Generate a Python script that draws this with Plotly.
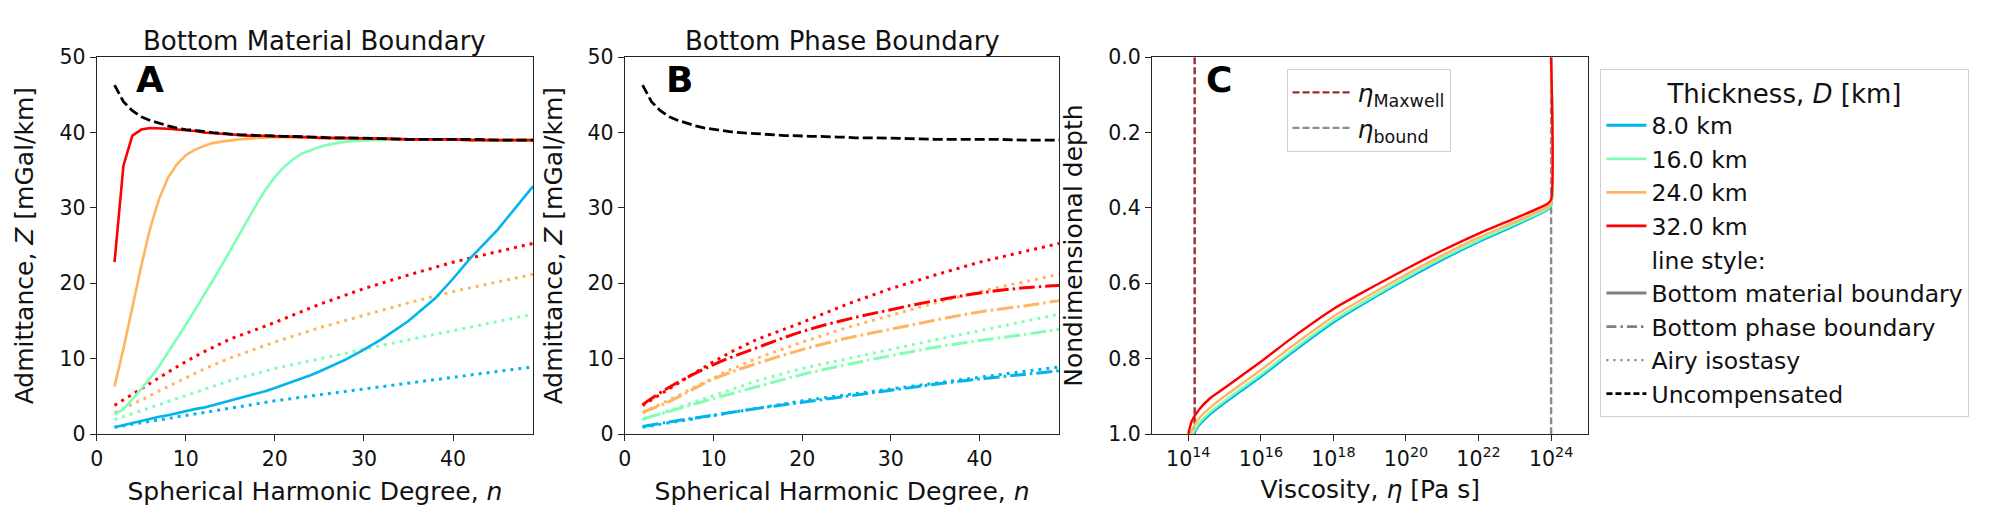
import numpy as np
import plotly.graph_objects as go
from plotly.subplots import make_subplots

# spherical harmonic degrees used for each group of curves
n_full = [2, 3, 4, 5, 6, 7, 8, 9, 10, 11, 12, 13, 14, 15, 16, 17, 18, 19, 20,
          21, 22, 23, 24, 25, 26, 28, 30, 32, 35, 38, 40, 42, 45, 47, 49]
n_airy = [2, 4, 6, 8, 10, 12, 15, 20, 25, 30, 35, 40, 45, 49]
n_phase = [2, 5, 10, 15, 20, 25, 30, 35, 40, 45, 49]

thickness_km = [8.0, 16.0, 24.0, 32.0]
colors = ['#00b4ec', '#80ffb4', '#ffb462', '#ff0000']

# uncompensated admittance [mGal/km]
z_uncomp = [46.3, 44.1, 42.9, 42.1, 41.6, 41.2, 40.9, 40.6, 40.4, 40.3, 40.1, 40.0,
            39.9, 39.8, 39.7, 39.7, 39.6, 39.6, 39.5, 39.5, 39.5, 39.4, 39.4, 39.4,
            39.3, 39.3, 39.2, 39.2, 39.1, 39.1, 39.1, 39.1, 39.0, 39.0, 39.0]

# bottom material boundary (panel A, solid)
z_mat_8 = [0.9, 1.2, 1.5, 1.8, 2.0, 2.3, 2.5, 2.8, 3.0, 3.3, 3.5, 3.8, 4.1, 4.4,
           4.7, 5.0, 5.4, 5.7, 6.1, 6.5, 6.9, 7.3, 7.8, 8.3, 8.8, 9.9, 11.2, 12.6,
           15.0, 18.0, 20.6, 23.4, 27.1, 30.0, 32.9]
z_mat_16 = [2.6, 3.3, 4.6, 6.0, 7.4, 9.0, 10.8, 12.7, 14.5, 16.4, 18.3, 20.3, 22.3,
            24.4, 26.5, 28.6, 30.6, 32.5, 34.1, 35.4, 36.4, 37.2, 37.7, 38.1, 38.4,
            38.8, 38.95, 39.05, 39.1, 39.1, 39.05, 39.0, 39.0, 39.0, 39.0]
z_mat_24 = [6.3, 11.3, 16.8, 22.3, 27.3, 31.2, 34.0, 35.8, 37.0, 37.7, 38.2, 38.6,
            38.8, 39.0, 39.1, 39.2, 39.3, 39.3, 39.4, 39.4, 39.4, 39.4, 39.4, 39.3,
            39.3, 39.3, 39.2, 39.2, 39.1, 39.1, 39.1, 39.0, 39.0, 39.0, 39.0]
z_mat_32 = [22.8, 35.6, 39.6, 40.4, 40.6, 40.6, 40.5, 40.4, 40.3, 40.2, 40.0, 39.9,
            39.8, 39.7, 39.7, 39.6, 39.6, 39.5, 39.5, 39.5, 39.4, 39.4, 39.4, 39.3,
            39.3, 39.3, 39.2, 39.2, 39.1, 39.1, 39.1, 39.0, 39.0, 39.0, 39.0]

# Airy isostasy (dotted, both panels)
z_airy_8 = [0.9, 1.3, 1.7, 2.1, 2.5, 2.9, 3.4, 4.4, 5.2, 6.0, 6.8, 7.5, 8.3, 8.9]
z_airy_16 = [1.9, 2.7, 3.5, 4.4, 5.2, 6.0, 7.1, 8.7, 10.0, 11.2, 12.5, 13.7, 14.9, 15.9]
z_airy_24 = [2.8, 3.9, 5.1, 6.3, 7.5, 8.6, 10.1, 12.2, 14.1, 15.8, 17.4, 18.9, 20.2, 21.2]
z_airy_32 = [3.8, 5.3, 6.8, 8.2, 9.6, 10.9, 12.6, 14.8, 17.2, 19.3, 21.1, 22.8, 24.2, 25.3]

# bottom phase boundary (panel B, dash-dot)
z_phase_8 = [1.0, 1.6, 2.5, 3.4, 4.2, 5.0, 5.8, 6.6, 7.3, 7.9, 8.4]
z_phase_16 = [2.0, 3.0, 4.7, 6.3, 7.9, 9.2, 10.4, 11.5, 12.4, 13.2, 13.9]
z_phase_24 = [2.9, 4.3, 7.3, 9.4, 11.2, 12.7, 13.9, 15.1, 16.2, 17.0, 17.7]
z_phase_32 = [3.9, 6.2, 9.2, 11.5, 13.6, 15.2, 16.5, 17.7, 18.7, 19.4, 19.7]

# viscosity profiles (panel C): log10 viscosity [Pa s] vs nondimensional depth
log_eta_8 = [24.0, 24.0, 23.9, 23.0, 22.0, 21.0, 20.0, 19.0, 18.0, 17.0, 16.0, 15.0, 14.6, 14.3, 14.15]
depth_8 = [0.0, 0.394, 0.405, 0.447, 0.490, 0.538, 0.590, 0.645, 0.704, 0.774, 0.848, 0.918, 0.948, 0.977, 1.0]
log_eta_16 = [24.0, 24.0, 23.9, 23.0, 22.0, 21.0, 20.0, 19.0, 18.0, 17.0, 16.0, 15.0, 14.6, 14.3, 14.12]
depth_16 = [0.0, 0.391, 0.402, 0.443, 0.486, 0.533, 0.585, 0.640, 0.698, 0.768, 0.842, 0.912, 0.942, 0.971, 1.0]
log_eta_24 = [24.0, 24.0, 23.9, 23.0, 22.0, 21.0, 20.0, 19.0, 18.0, 17.0, 16.0, 15.0, 14.6, 14.3, 14.15, 14.05]
depth_24 = [0.0, 0.386, 0.397, 0.437, 0.479, 0.526, 0.577, 0.631, 0.688, 0.757, 0.830, 0.900, 0.930, 0.958, 0.980, 1.0]
log_eta_32 = [24.0, 24.0, 23.9, 23.0, 22.0, 21.0, 20.0, 19.0, 18.0, 17.0, 16.0, 15.0, 14.6, 14.3, 14.1, 14.0]
depth_32 = [0.0, 0.378, 0.389, 0.428, 0.468, 0.513, 0.562, 0.614, 0.668, 0.735, 0.808, 0.878, 0.905, 0.935, 0.965, 1.0]

eta_maxwell = 1.5e14
eta_bound = 1e24

z_mat = [z_mat_8, z_mat_16, z_mat_24, z_mat_32]
z_airy = [z_airy_8, z_airy_16, z_airy_24, z_airy_32]
z_phase = [z_phase_8, z_phase_16, z_phase_24, z_phase_32]
log_etas = [log_eta_8, log_eta_16, log_eta_24, log_eta_32]
depths = [depth_8, depth_16, depth_24, depth_32]

FONT = 'DejaVu Sans'
DOT = '3px,5px'
DASHDOT = '16px,4px,2.5px,4px'
DASHED = '10px,4px'

fig = make_subplots(rows=1, cols=3)

# Panel A
for i in range(4):
    fig.add_trace(go.Scatter(x=n_airy, y=z_airy[i], mode='lines', showlegend=False,
                             line=dict(color=colors[i], width=3, dash=DOT)), row=1, col=1)
for i in range(4):
    fig.add_trace(go.Scatter(x=n_full, y=z_mat[i], mode='lines', showlegend=False,
                             line=dict(color=colors[i], width=2.6)), row=1, col=1)
fig.add_trace(go.Scatter(x=n_full, y=z_uncomp, mode='lines', showlegend=False,
                         line=dict(color='black', width=2.8, dash=DASHED)), row=1, col=1)

# Panel B
for i in range(4):
    fig.add_trace(go.Scatter(x=n_airy, y=z_airy[i], mode='lines', showlegend=False,
                             line=dict(color=colors[i], width=3, dash=DOT)), row=1, col=2)
for i in range(4):
    fig.add_trace(go.Scatter(x=n_phase, y=z_phase[i], mode='lines', showlegend=False,
                             line=dict(color=colors[i], width=3, dash=DASHDOT, shape='spline')),
                  row=1, col=2)
fig.add_trace(go.Scatter(x=n_full, y=z_uncomp, mode='lines', showlegend=False,
                         line=dict(color='black', width=2.8, dash=DASHED)), row=1, col=2)

# Panel C
fig.add_trace(go.Scatter(x=[eta_maxwell, eta_maxwell], y=[0, 1], mode='lines',
                         name='<i>η</i><sub>Maxwell</sub>', legend='legend2',
                         line=dict(color='#9b2d2d', width=2.4, dash='7px,3px')), row=1, col=3)
fig.add_trace(go.Scatter(x=[eta_bound, eta_bound], y=[0, 1], mode='lines',
                         name='<i>η</i><sub>bound</sub>', legend='legend2',
                         line=dict(color='#8c8c8c', width=2.4, dash='7px,3px')), row=1, col=3)
for i in range(4):
    fig.add_trace(go.Scatter(x=np.power(10.0, log_etas[i]), y=depths[i], mode='lines',
                             showlegend=False, line=dict(color=colors[i], width=2.4, shape='spline',
                                                         smoothing=0.6)),
                  row=1, col=3)

# main legend entries
for i in range(4):
    fig.add_trace(go.Scatter(x=[None], y=[None], mode='lines', name=f'{thickness_km[i]:.1f} km',
                             line=dict(color=colors[i], width=2.8)))
fig.add_trace(go.Scatter(x=[None], y=[None], mode='lines', name='line style:',
                         line=dict(color='rgba(0,0,0,0)', width=2)))
fig.add_trace(go.Scatter(x=[None], y=[None], mode='lines', name='Bottom material boundary',
                         line=dict(color='gray', width=2.8)))
fig.add_trace(go.Scatter(x=[None], y=[None], mode='lines', name='Bottom phase boundary',
                         line=dict(color='gray', width=2.8, dash='10px,4px,2.5px,4px')))
fig.add_trace(go.Scatter(x=[None], y=[None], mode='lines', name='Airy isostasy',
                         line=dict(color='gray', width=2.2, dash='2px,5px')))
fig.add_trace(go.Scatter(x=[None], y=[None], mode='lines', name='Uncompensated',
                         line=dict(color='black', width=2.6, dash='6px,3px')))

axis_common = dict(showline=True, mirror=True, linecolor='#262626', linewidth=1.2,
                   ticks='outside', ticklen=6, tickwidth=1.2, tickcolor='#262626',
                   showgrid=False, zeroline=False,
                   tickfont=dict(family=FONT, size=20.5, color='#111'))
ydom = [1 - 434 / 521, 1 - 39 / 521]

fig.update_layout(
    xaxis=dict(domain=[82 / 2000, 520 / 2000], range=[0, 49], tickvals=[0, 10, 20, 30, 40],
               title=dict(text='Spherical Harmonic Degree, <i>n</i>', standoff=12), **axis_common),
    yaxis=dict(domain=ydom, range=[0, 50], tickvals=[0, 10, 20, 30, 40, 50],
               title=dict(text='Admittance, <i>Z</i> [mGal/km]', standoff=18), **axis_common),
    xaxis2=dict(domain=[612 / 2000, 1048 / 2000], range=[0, 49], tickvals=[0, 10, 20, 30, 40],
                title=dict(text='Spherical Harmonic Degree, <i>n</i>', standoff=12), **axis_common),
    yaxis2=dict(domain=ydom, range=[0, 50], tickvals=[0, 10, 20, 30, 40, 50],
                title=dict(text='Admittance, <i>Z</i> [mGal/km]', standoff=17), **axis_common),
    xaxis3=dict(domain=[1141 / 2000, 1579 / 2000], type='log', range=[13, 25.03],
                tickvals=[1e14, 1e16, 1e18, 1e20, 1e22, 1e24],
                ticktext=['10<sup>14</sup>', '10<sup>16</sup>', '10<sup>18</sup>',
                          '10<sup>20</sup>', '10<sup>22</sup>', '10<sup>24</sup>'],
                title=dict(text='Viscosity, <i>η</i> [Pa s]', standoff=10), **axis_common),
    yaxis3=dict(domain=ydom, range=[1.0, 0.0], tickvals=[0, 0.2, 0.4, 0.6, 0.8, 1.0],
                tickformat='.1f',
                title=dict(text='Nondimensional depth', standoff=18), **axis_common),
)
fig.update_xaxes(title_font=dict(family=FONT, size=25, color='#111'))
fig.update_yaxes(title_font=dict(family=FONT, size=25, color='#111'))

# panel titles and letters
titles = [('Bottom Material Boundary', 301), ('Bottom Phase Boundary', 830)]
for text, xpix in titles:
    fig.add_annotation(text=text, x=xpix / 2000, y=1 - 22 / 521, xref='paper', yref='paper',
                       showarrow=False, xanchor='center', yanchor='middle',
                       font=dict(family=FONT, size=26, color='#111'))
for letter, xpix in [('A', 135), ('B', 667), ('C', 1208)]:
    fig.add_annotation(text=f'<b>{letter}</b>', x=xpix / 2000, y=1 - 62 / 521, xref='paper',
                       yref='paper', showarrow=False, xanchor='center', yanchor='middle',
                       font=dict(family=FONT, size=36, color='black'))

fig.update_layout(
    width=2000, height=521,
    margin=dict(l=0, r=0, t=0, b=0),
    paper_bgcolor='white', plot_bgcolor='white',
    font=dict(family=FONT, color='#111'),
    legend=dict(x=1591 / 2000, y=1 - 51 / 521, xanchor='left', yanchor='top',
                bgcolor='white', bordercolor='#d0d0d0', borderwidth=1,
                font=dict(family=FONT, size=23.5, color='#111'),
                title=dict(text='Thickness, <i>D</i> [km]', side='top center',
                           font=dict(family=FONT, size=26, color='#111')),
                itemwidth=40, tracegroupgap=0),
    legend2=dict(x=1276 / 2000, y=1 - 51 / 521, xanchor='left', yanchor='top',
                 bgcolor='white', bordercolor='#d0d0d0', borderwidth=1,
                 font=dict(family=FONT, size=25, color='#111'), itemwidth=60),
)

fig.write_html("out.html")
